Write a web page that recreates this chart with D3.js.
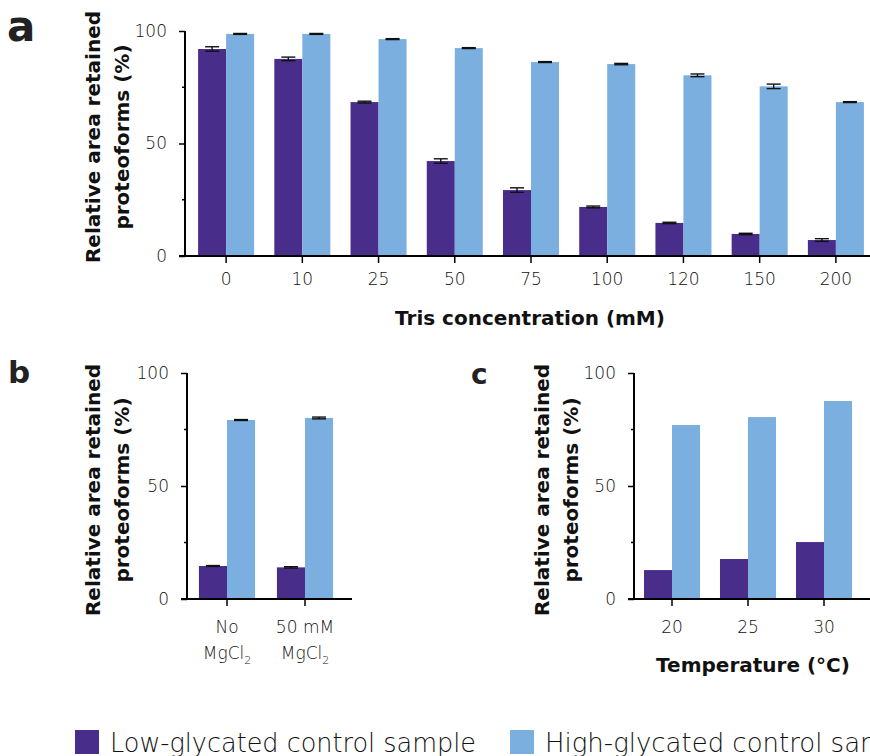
<!DOCTYPE html>
<html>
<head>
<meta charset="utf-8">
<script src="https://cdn.jsdelivr.net/npm/d3@7"></script>
<style>
  body { margin: 0; background: #fff; }
  .tick-label { font-family: "DejaVu Sans", sans-serif; font-weight: 300; font-size: 17px; fill: #111; }
  .title { font-family: "DejaVu Sans", sans-serif; font-weight: bold; font-size: 20px; fill: #111; }
  .panel-letter { font-family: "DejaVu Sans", sans-serif; font-weight: bold; fill: #222; }
  .legend-text { font-family: "DejaVu Sans", sans-serif; font-weight: 300; font-size: 26px; fill: #111; }
</style>
</head>
<body>
<svg id="chart" width="870" height="756"></svg>
<script>
// series names
var seriesNames = ["Low-glycated control sample", "High-glycated control sample"];
var colors = ["#482e8a", "#7bafdf"];

// panel a: Tris concentration
var trisLevels = ["0", "10", "25", "50", "75", "100", "120", "150", "200"];
var trisLow = [92.0, 87.6, 68.4, 42.2, 29.3, 21.8, 14.7, 9.8, 7.1];
var trisLowErr = [1.0, 0.8, 0.4, 1.0, 1.0, 0.4, 0.3, 0.3, 0.6];
var trisHigh = [98.7, 98.7, 96.4, 92.4, 86.2, 85.3, 80.3, 75.4, 68.4];
var trisHighErr = [0.2, 0.2, 0.2, 0.2, 0.2, 0.3, 0.6, 1.0, 0.2];

// panel b: MgCl2
var mgLevels = [["No", "MgCl", "2"], ["50 mM", "MgCl", "2"]];
var mgLow = [14.6, 14.0];
var mgLowErr = [0.2, 0.3];
var mgHigh = [79.2, 80.1];
var mgHighErr = [0.2, 0.4];

// panel c: temperature
var tempLevels = ["20", "25", "30"];
var tempLow = [12.8, 17.7, 25.2];
var tempHigh = [77.0, 80.5, 87.6];

var yTicks = [0, 50, 100];
var yMinorTicks = [25, 75];

var svg = d3.select("#chart");

function drawPanel(opts) {
  var g = svg.append("g");

  var y = d3.scaleLinear().domain([0, 100]).range([opts.bottom, opts.top]);

  var x = d3.scaleBand()
    .domain(d3.range(opts.categories.length))
    .range(opts.xRange)
    .paddingInner(opts.pad)
    .paddingOuter(opts.pad / 2);

  var inner = d3.scaleBand()
    .domain([0, 1])
    .range([0, x.bandwidth()]);

  var rows = opts.categories.map(function(c, i) {
    return [
      { i: i, s: 0, v: opts.low[i], e: opts.lowErr ? opts.lowErr[i] : null },
      { i: i, s: 1, v: opts.high[i], e: opts.highErr ? opts.highErr[i] : null }
    ];
  });
  var bars = [].concat.apply([], rows);

  // bars
  g.selectAll("rect.bar")
    .data(bars)
    .enter()
    .append("rect")
    .attr("class", "bar")
    .attr("x", d => x(d.i) + inner(d.s))
    .attr("y", d => y(d.v))
    .attr("width", inner.bandwidth())
    .attr("height", d => y(0) - y(d.v))
    .attr("fill", d => colors[d.s]);

  // error bars
  var errs = bars.filter(d => d.e !== null);
  var eg = g.selectAll("g.err")
    .data(errs)
    .enter()
    .append("g")
    .attr("class", "err")
    .attr("stroke", "#111")
    .attr("stroke-width", 1.4);
  var cx = d => x(d.i) + inner(d.s) + inner.bandwidth() / 2;
  eg.append("line")
    .attr("x1", cx).attr("x2", cx)
    .attr("y1", d => y(d.v + d.e)).attr("y2", d => y(d.v - d.e));
  eg.append("line")
    .attr("x1", d => cx(d) - 7).attr("x2", d => cx(d) + 7)
    .attr("y1", d => y(d.v + d.e)).attr("y2", d => y(d.v + d.e));
  eg.append("line")
    .attr("x1", d => cx(d) - 7).attr("x2", d => cx(d) + 7)
    .attr("y1", d => y(d.v - d.e)).attr("y2", d => y(d.v - d.e));

  // y axis
  var yAxis = g.append("g")
    .attr("transform", `translate(${opts.axisX},0)`)
    .call(d3.axisLeft(y).tickValues(yTicks).tickSize(6).tickPadding(12).tickFormat(d3.format("d")));
  yAxis.select(".domain").attr("stroke-width", 2).attr("d", `M0,${opts.top}V${opts.bottom}`);
  yAxis.selectAll(".tick line").attr("stroke-width", 1.5);
  yAxis.selectAll(".tick text").attr("class", "tick-label").attr("font-size", null).attr("font-family", null);
  g.append("g")
    .attr("transform", `translate(${opts.axisX},0)`)
    .selectAll("line")
    .data(yMinorTicks)
    .enter()
    .append("line")
    .attr("x1", -3).attr("x2", 0)
    .attr("y1", d => y(d)).attr("y2", d => y(d))
    .attr("stroke", "#000").attr("stroke-width", 1.5);

  // x axis
  var xAxis = g.append("g")
    .attr("transform", `translate(0,${opts.bottom})`)
    .call(d3.axisBottom(x).tickSize(7).tickFormat(""));
  xAxis.select(".domain").attr("stroke-width", 2).attr("d", `M${opts.axisX - 6},0H${opts.xEnd}`);
  xAxis.selectAll(".tick line").attr("stroke-width", 1.5);

  // category labels
  var labels = g.selectAll("text.cat")
    .data(opts.categories)
    .enter()
    .append("text")
    .attr("class", "tick-label")
    .attr("text-anchor", "middle")
    .attr("x", (d, i) => x(i) + x.bandwidth() / 2)
    .attr("y", opts.bottom + opts.labelGap);
  labels.each(function(d) {
    var t = d3.select(this);
    if (typeof d === "string") {
      t.text(d);
    } else {
      t.append("tspan").attr("x", t.attr("x")).text(d[0]);
      t.append("tspan").attr("x", t.attr("x")).attr("dy", 26).text(d[1]);
      t.append("tspan").attr("font-size", 11).attr("dy", 5).text(d[2]);
    }
  });

  // y title
  var yt = g.append("text")
    .attr("class", "title")
    .attr("text-anchor", "middle")
    .attr("transform", `translate(${opts.yTitleX},${opts.yTitleY}) rotate(-90)`);
  yt.append("tspan").attr("x", 0).attr("y", 0).text("Relative area retained");
  yt.append("tspan").attr("x", 0).attr("y", 29).text("proteoforms (%)");

  // x title
  if (opts.xTitle) {
    g.append("text")
      .attr("class", "title")
      .attr("text-anchor", "middle")
      .attr("x", opts.xTitleX)
      .attr("y", opts.xTitleY)
      .text(opts.xTitle);
  }

  // panel letter
  g.append("text")
    .attr("class", "panel-letter")
    .attr("x", opts.letterX)
    .attr("y", opts.letterY)
    .style("font-size", opts.letterSize + "px")
    .text(opts.letter);
}

drawPanel({
  categories: trisLevels, low: trisLow, lowErr: trisLowErr, high: trisHigh, highErr: trisHighErr,
  top: 31, bottom: 256, axisX: 185, xRange: [188, 874], pad: 0.265, xEnd: 875, labelGap: 29,
  yTitleX: 100, yTitleY: 137, xTitle: "Tris concentration (mM)", xTitleX: 530, xTitleY: 325,
  letter: "a", letterX: 7, letterY: 41, letterSize: 42
});

drawPanel({
  categories: mgLevels, low: mgLow, lowErr: mgLowErr, high: mgHigh, highErr: mgHighErr,
  top: 373, bottom: 599, axisX: 187, xRange: [188, 344], pad: 0.28, xEnd: 352, labelGap: 34,
  yTitleX: 100, yTitleY: 490, xTitle: null,
  letter: "b", letterX: 8, letterY: 383, letterSize: 31
});

drawPanel({
  categories: tempLevels, low: tempLow, lowErr: null, high: tempHigh, highErr: null,
  top: 373, bottom: 599, axisX: 634, xRange: [634, 862], pad: 0.263, xEnd: 875, labelGap: 34,
  yTitleX: 549, yTitleY: 490, xTitle: "Temperature (\u00b0C)", xTitleX: 753, xTitleY: 672,
  letter: "c", letterX: 471, letterY: 384, letterSize: 28
});

// legend
var legend = svg.append("g")
  .selectAll("g")
  .data(seriesNames)
  .enter()
  .append("g")
  .attr("transform", (d, i) => `translate(${[75, 510][i]},730)`);
legend.append("rect")
  .attr("width", 24).attr("height", 24)
  .attr("fill", (d, i) => colors[i]);
legend.append("text")
  .attr("class", "legend-text")
  .attr("x", 35)
  .attr("y", 22)
  .attr("textLength", (d, i) => [366, 380][i])
  .attr("lengthAdjust", "spacingAndGlyphs")
  .text(d => d);
</script>
</body>
</html>
